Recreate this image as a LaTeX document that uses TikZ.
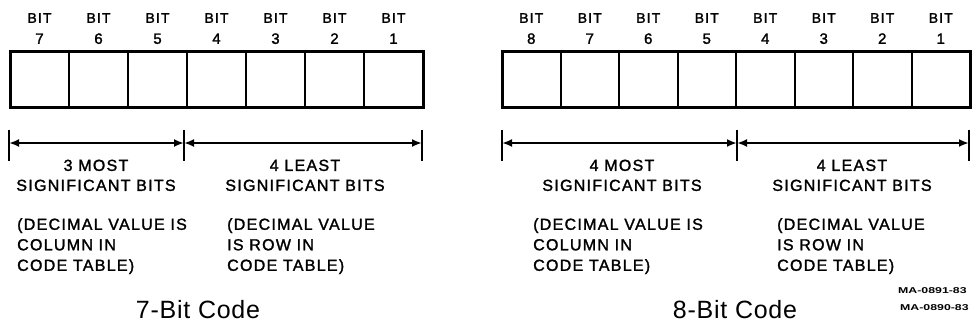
\documentclass[tikz,border=0pt]{standalone}
\usepackage{fontspec}
\usepackage{graphicx}
\setmainfont{Liberation Sans}
\newfontfamily\lblfont[FakeBold=1.6,LetterSpace=8]{Liberation Sans}
\newfontfamily\markfont{Liberation Sans Bold}
\usetikzlibrary{arrows.meta}
\begin{document}
\begin{tikzpicture}[x=1pt,y=-1pt,
  bitlbl/.style={font=\lblfont\fontsize{14}{21}\selectfont, align=center, inner sep=0pt, anchor=north},
  cell/.style={draw, line width=2pt, minimum width=#1, minimum height=56pt, inner sep=0pt, outer sep=0pt},
  outerbox/.style={draw, line width=3pt},
  tickline/.style={line width=2.2pt},
  dimline/.style={line width=2pt, {Latex[length=10pt,width=8pt]}-{Latex[length=10pt,width=8pt]}},
  head/.style={font=\lblfont\fontsize{16}{20}\selectfont, align=center, inner sep=0pt, anchor=north},
  para/.style={font=\lblfont\fontsize{16}{20.5}\selectfont, align=left, inner sep=0pt, anchor=north west},
  captiontext/.style={font=\fontsize{25}{28}\selectfont\addfontfeature{LetterSpace=3}, inner sep=0pt, anchor=north},
  refmark/.style={font=\markfont\fontsize{8.5}{12}\selectfont, inner sep=0pt, anchor=north west}
]
\useasboundingbox (0,0) rectangle (972,325);
\clip (0,0) rectangle (972,325);

% ---------- 7-bit ----------
\foreach \i/\b in {0/7,1/6,2/5,3/4,4/3,5/2,6/1}{
  \node[cell=59pt, anchor=north west] (s\b) at ({10+59*\i},51) {};
  \node[bitlbl] (sl\b) at ({39.5+59*\i},13) {BIT\\{\fontsize{15}{21}\selectfont\b}};
}
\draw[outerbox] (s7.north west) rectangle (s1.south east);

\coordinate (a0) at (9,143);
\coordinate (a1) at (184,143);
\coordinate (a2) at (422,143);
\foreach \c in {a0,a1,a2}{
  \draw[tickline] ([yshift=13pt]\c) -- ([yshift=-18pt]\c);
}
\draw[dimline] (a0) -- (a1);
\draw[dimline] (a1) -- (a2);

\node[head] (h1) at (96,159.5) {3 MOST\\SIGNIFICANT BITS};
\node[head] (h2) at (305,159.5) {4 LEAST\\SIGNIFICANT BITS};
\node[para] (p1) at (17,218) {(DECIMAL VALUE IS\\COLUMN IN\\CODE TABLE)};
\node[para] (p2) at (227,218) {(DECIMAL VALUE\\IS ROW IN\\CODE TABLE)};
\node[captiontext] (c1) at (198,300) {7-Bit Code};

% ---------- 8-bit ----------
\foreach \i/\b in {0/8,1/7,2/6,3/5,4/4,5/3,6/2,7/1}{
  \node[cell=58.5pt, anchor=north west] (e\b) at ({502+58.5*\i},51) {};
  \node[bitlbl] (el\b) at ({531.25+58.5*\i},13) {BIT\\{\fontsize{15}{21}\selectfont\b}};
}
\draw[outerbox] (e8.north west) rectangle (e1.south east);

\coordinate (b0) at (502,143);
\coordinate (b1) at (737,143);
\coordinate (b2) at (969,143);
\foreach \c in {b0,b1,b2}{
  \draw[tickline] ([yshift=13pt]\c) -- ([yshift=-18pt]\c);
}
\draw[dimline] (b0) -- (b1);
\draw[dimline] (b1) -- (b2);

\node[head] (h3) at (622,159.5) {4 MOST\\SIGNIFICANT BITS};
\node[head] (h4) at (852,159.5) {4 LEAST\\SIGNIFICANT BITS};
\node[para] (p3) at (533,218) {(DECIMAL VALUE IS\\COLUMN IN\\CODE TABLE)};
\node[para] (p4) at (777,218) {(DECIMAL VALUE\\IS ROW IN\\CODE TABLE)};
\node[captiontext] (c2) at (735,300) {8-Bit Code};

\node[refmark] (m1) at (898,287) {\scalebox{1.45}[1]{MA-0891-83}};
\node[refmark] (m2) at (900,304) {\scalebox{1.45}[1]{MA-0890-83}};
\end{tikzpicture}
\end{document}
